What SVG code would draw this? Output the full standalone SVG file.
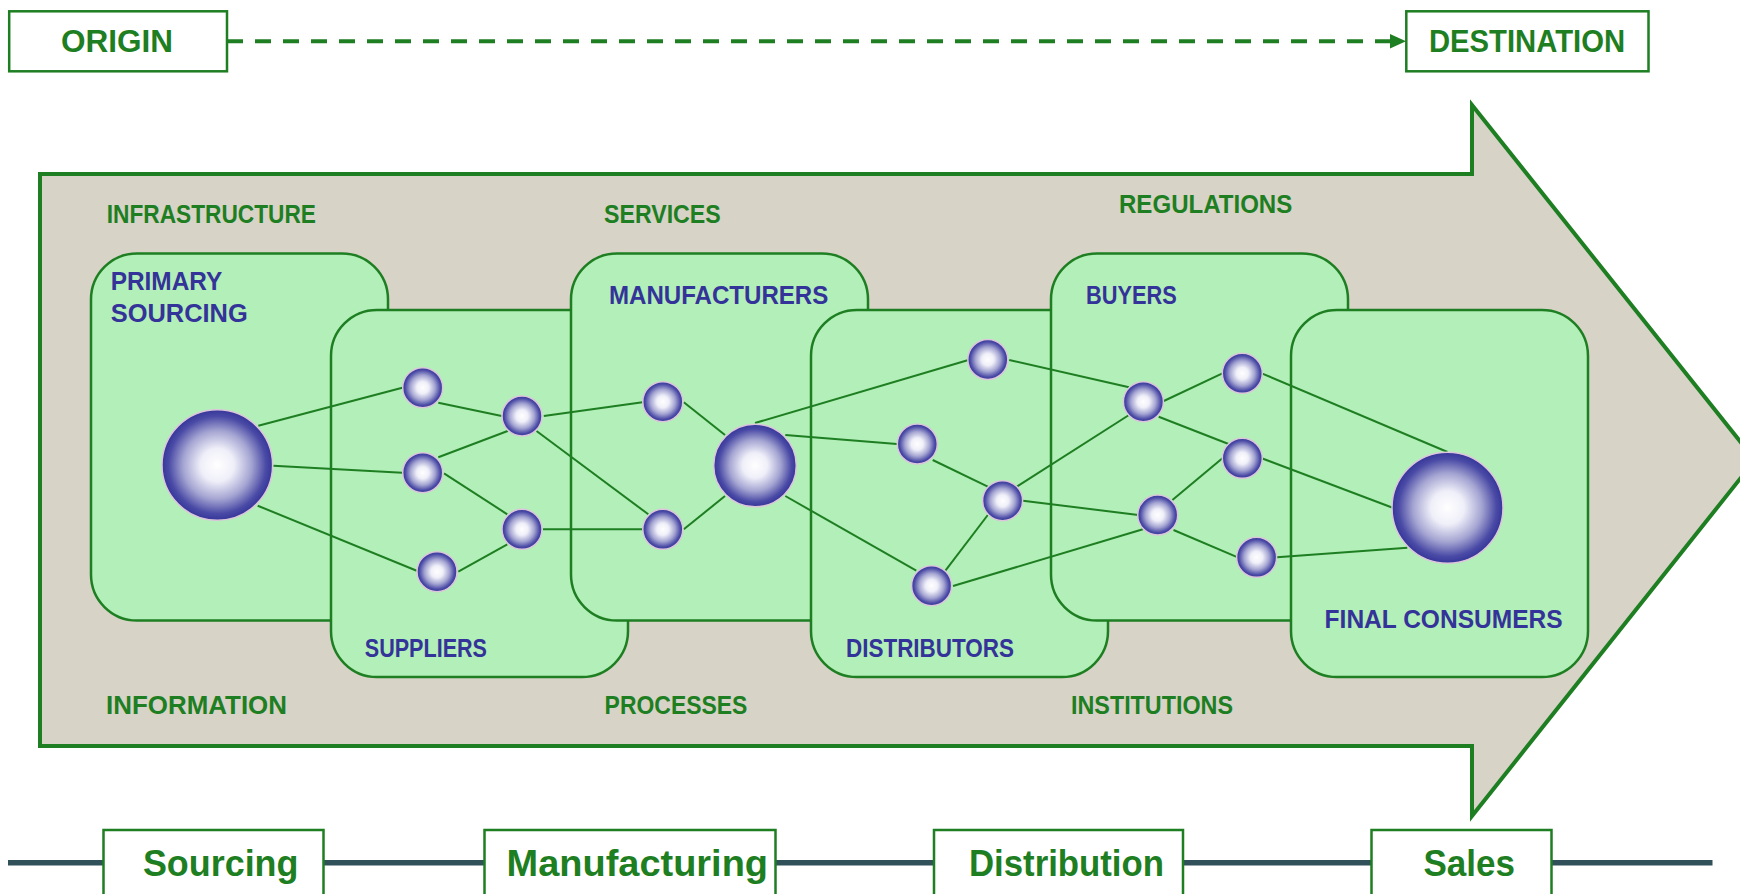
<svg xmlns="http://www.w3.org/2000/svg" width="1740" height="894" viewBox="0 0 1740 894">
<defs>
<radialGradient id="sph" cx="50%" cy="50%" r="50%">
<stop offset="0" stop-color="#ffffff"/>
<stop offset="0.3" stop-color="#efeff9"/>
<stop offset="0.62" stop-color="#a4a4d2"/>
<stop offset="0.88" stop-color="#4a4aa6"/>
<stop offset="1" stop-color="#36369a"/>
</radialGradient>
<marker id="ah" viewBox="0 0 16 16" refX="16" refY="8" markerWidth="16" markerHeight="16" markerUnits="userSpaceOnUse" orient="auto">
<path d="M0,0 L16,8 L0,16 Z" fill="#1e7e22"/>
</marker>
<style>
.tag{fill:#fff;stroke:#1e7e22;stroke-width:2.5}
.tagt{font-family:"Liberation Sans",Arial,sans-serif;font-weight:bold;font-size:32px;fill:#1e7e22}
.stage{fill:#fff;stroke:#1e7e22;stroke-width:2.5}
.staget{font-family:"Liberation Sans",Arial,sans-serif;font-weight:bold;font-size:36px;fill:#1e7e22}
.ctx{font-family:"Liberation Sans",Arial,sans-serif;font-weight:bold;font-size:25.5px;fill:#1e7e22}
.box{fill:#b3efb8;stroke:#1e7e22;stroke-width:2.5}
.bt{font-family:"Liberation Sans",Arial,sans-serif;font-weight:bold;font-size:25.5px;fill:#333399}
.con{stroke:#1e7e22;stroke-width:2;fill:none}
.s{fill:url(#sph);stroke:#dcc6dc;stroke-width:1.5}
</style>
</defs>

<!-- big process arrow -->
<polygon id="flow-arrow" points="40,174 1472,174 1472,105 1755,460 1472,816 1472,746 40,746" fill="#d7d3c7" stroke="#1e7e22" stroke-width="4" stroke-linejoin="miter"/>

<!-- context labels -->
<g id="context-labels">
<text class="ctx" x="106.7" y="222.7" textLength="209.3" lengthAdjust="spacingAndGlyphs">INFRASTRUCTURE</text>
<text class="ctx" x="604" y="222.7" textLength="116.7" lengthAdjust="spacingAndGlyphs">SERVICES</text>
<text class="ctx" x="1119" y="213.3" textLength="173.3" lengthAdjust="spacingAndGlyphs">REGULATIONS</text>
<text class="ctx" x="106" y="714" textLength="181" lengthAdjust="spacingAndGlyphs">INFORMATION</text>
<text class="ctx" x="604.6" y="714" textLength="142.8" lengthAdjust="spacingAndGlyphs">PROCESSES</text>
<text class="ctx" x="1071" y="714" textLength="162" lengthAdjust="spacingAndGlyphs">INSTITUTIONS</text>
</g>

<!-- stage boxes -->
<g id="primary-sourcing">
<rect class="box" x="91" y="253.5" width="297" height="367" rx="46" ry="46"/>
<text class="bt" x="110.7" y="290" textLength="111.6" lengthAdjust="spacingAndGlyphs">PRIMARY</text>
<text class="bt" x="110.7" y="322.3" textLength="137" lengthAdjust="spacingAndGlyphs">SOURCING</text>
</g>
<g id="suppliers">
<rect class="box" x="331" y="310" width="297" height="367" rx="46" ry="46"/>
<text class="bt" x="364.8" y="656.7" textLength="122.2" lengthAdjust="spacingAndGlyphs">SUPPLIERS</text>
</g>
<g id="manufacturers">
<rect class="box" x="571" y="253.5" width="297" height="367" rx="46" ry="46"/>
<text class="bt" x="609" y="304" textLength="219.3" lengthAdjust="spacingAndGlyphs">MANUFACTURERS</text>
</g>
<g id="distributors">
<rect class="box" x="811" y="310" width="297" height="367" rx="46" ry="46"/>
<text class="bt" x="846" y="656.7" textLength="168" lengthAdjust="spacingAndGlyphs">DISTRIBUTORS</text>
</g>
<g id="buyers">
<rect class="box" x="1051" y="253.5" width="297" height="367" rx="46" ry="46"/>
<text class="bt" x="1086" y="304" textLength="90.7" lengthAdjust="spacingAndGlyphs">BUYERS</text>
</g>
<g id="final-consumers">
<rect class="box" x="1291" y="310" width="297" height="367" rx="46" ry="46"/>
<text class="bt" x="1324.6" y="628" textLength="238" lengthAdjust="spacingAndGlyphs">FINAL CONSUMERS</text>
</g>

<!-- connectors -->
<g id="connectors" class="con">
<line x1="227" y1="41.3" x2="1391" y2="41.3" stroke-width="4" stroke-dasharray="16 12"/>
<polygon points="1390,34 1406,41.3 1390,48.6" fill="#1e7e22" stroke="none"/>
<line x1="258.3" y1="425.7" x2="402.3" y2="387.7"/>
<line x1="273.3" y1="465.7" x2="402.3" y2="472.7"/>
<line x1="257.7" y1="505.7" x2="416.7" y2="570.7"/>
<line x1="438.3" y1="402.7" x2="501.7" y2="416"/>
<line x1="438.3" y1="457.3" x2="508.3" y2="430.7"/>
<line x1="444" y1="473.3" x2="507.3" y2="514.3"/>
<line x1="458.3" y1="571.7" x2="507.3" y2="544.3"/>
<line x1="543.8" y1="416" x2="642.5" y2="402.3"/>
<line x1="536.5" y1="431" x2="648.3" y2="514.3"/>
<line x1="543" y1="529.3" x2="642.5" y2="529.3"/>
<line x1="683.8" y1="402.3" x2="725" y2="435"/>
<line x1="683.8" y1="529.3" x2="725" y2="496"/>
<line x1="755" y1="423" x2="968.4" y2="360"/>
<line x1="785.3" y1="435" x2="897" y2="444"/>
<line x1="785.3" y1="496" x2="916.3" y2="570.7"/>
<line x1="932.7" y1="460" x2="987.8" y2="486.7"/>
<line x1="945.4" y1="570.7" x2="987.8" y2="515"/>
<line x1="1009.2" y1="360" x2="1129" y2="387.3"/>
<line x1="1016.8" y1="486.7" x2="1129" y2="415"/>
<line x1="1023" y1="500.7" x2="1138.3" y2="515"/>
<line x1="953" y1="586" x2="1142.9" y2="529.3"/>
<line x1="1163.8" y1="401" x2="1222.4" y2="373.3"/>
<line x1="1158.7" y1="416.7" x2="1228.6" y2="444"/>
<line x1="1172.4" y1="500" x2="1222.4" y2="458.3"/>
<line x1="1173.5" y1="530" x2="1237.8" y2="557.3"/>
<line x1="1261.7" y1="373.3" x2="1447.5" y2="452"/>
<line x1="1261.7" y1="458.3" x2="1392" y2="507.5"/>
<line x1="1277" y1="557.3" x2="1407.3" y2="547.7"/>
</g>

<!-- spheres -->
<g id="hub-source"><circle class="s" cx="217.3" cy="465" r="55.3"/></g>
<g id="hub-manufacturer"><circle class="s" cx="755" cy="465.5" r="41.3"/></g>
<g id="hub-consumer"><circle class="s" cx="1447.5" cy="507.7" r="55.5"/></g>
<g id="n-a"><circle class="s" cx="422.7" cy="387.7" r="20"/></g>
<g id="n-b"><circle class="s" cx="422.7" cy="472.7" r="20"/></g>
<g id="n-c"><circle class="s" cx="437" cy="571.7" r="20"/></g>
<g id="n-d"><circle class="s" cx="522" cy="416" r="20"/></g>
<g id="n-e"><circle class="s" cx="522" cy="529.3" r="20"/></g>
<g id="n-f"><circle class="s" cx="662.8" cy="401.7" r="20"/></g>
<g id="n-g"><circle class="s" cx="662.8" cy="529.3" r="20"/></g>
<g id="n-h"><circle class="s" cx="987.8" cy="359.5" r="20"/></g>
<g id="n-i"><circle class="s" cx="917.3" cy="444" r="20"/></g>
<g id="n-j"><circle class="s" cx="1002.6" cy="500.7" r="20"/></g>
<g id="n-k"><circle class="s" cx="931.6" cy="585.7" r="20"/></g>
<g id="n-l"><circle class="s" cx="1143.4" cy="401.7" r="20"/></g>
<g id="n-m"><circle class="s" cx="1157.7" cy="515" r="20"/></g>
<g id="n-n"><circle class="s" cx="1242.3" cy="373.3" r="20"/></g>
<g id="n-o"><circle class="s" cx="1242.3" cy="458.3" r="20"/></g>
<g id="n-p"><circle class="s" cx="1256.6" cy="557.3" r="20"/></g>

<!-- origin / destination -->
<g id="origin">
<rect class="tag" x="9.2" y="11.3" width="217.8" height="60"/>
<text class="tagt" x="61" y="51.7" textLength="112" lengthAdjust="spacingAndGlyphs">ORIGIN</text>
</g>
<g id="destination">
<rect class="tag" x="1406.3" y="11.3" width="242.2" height="60"/>
<text class="tagt" x="1429" y="51.7" textLength="196" lengthAdjust="spacingAndGlyphs">DESTINATION</text>
</g>

<!-- timeline -->
<g id="timeline">
<line x1="8" y1="862.7" x2="1712.5" y2="862.7" stroke="#30505a" stroke-width="5.6"/>
</g>
<g id="stage-sourcing">
<rect class="stage" x="103.5" y="830" width="220" height="80"/>
<text class="staget" x="142.9" y="876" textLength="155.6" lengthAdjust="spacingAndGlyphs">Sourcing</text>
</g>
<g id="stage-manufacturing">
<rect class="stage" x="484.5" y="830" width="291" height="80"/>
<text class="staget" x="506.6" y="876" textLength="261.4" lengthAdjust="spacingAndGlyphs">Manufacturing</text>
</g>
<g id="stage-distribution">
<rect class="stage" x="934" y="830" width="249" height="80"/>
<text class="staget" x="969" y="876" textLength="195" lengthAdjust="spacingAndGlyphs">Distribution</text>
</g>
<g id="stage-sales">
<rect class="stage" x="1371.5" y="830" width="180" height="80"/>
<text class="staget" x="1423.5" y="876" textLength="91.5" lengthAdjust="spacingAndGlyphs">Sales</text>
</g>
</svg>
